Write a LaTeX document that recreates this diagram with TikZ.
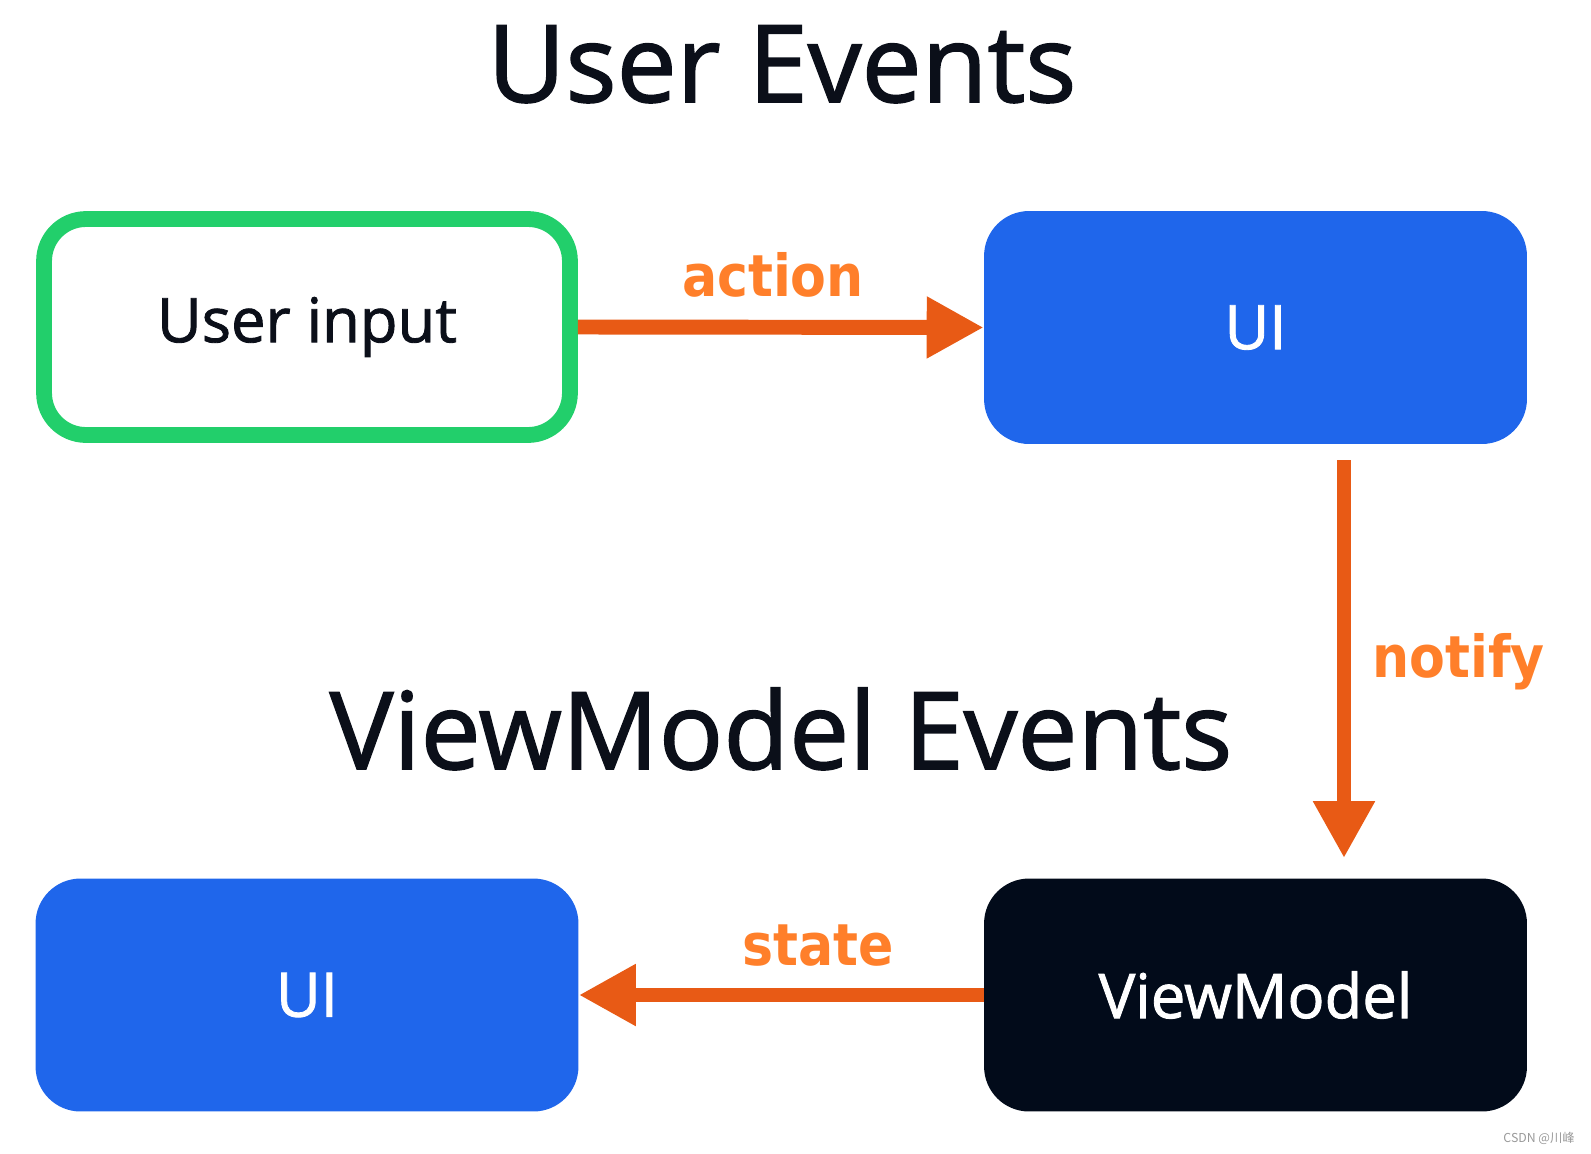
\documentclass[tikz,border=0pt]{standalone}
\usepackage{fontspec}
\setmainfont{Open Sans}[FakeBold=1.4]
\newfontfamily\lblfont{DejaVu Sans Condensed Bold}
\newfontfamily\cjk{Noto Sans CJK SC}
\usetikzlibrary{arrows.meta}

\definecolor{evgreen}{HTML}{22CF6B}
\definecolor{evblue}{HTML}{1F66EB}
\definecolor{evdark}{HTML}{020B1A}
\definecolor{evarrow}{HTML}{E85A15}
\definecolor{evlabel}{HTML}{FF7F2A}
\definecolor{evtext}{HTML}{0B0F19}

\tikzset{
  box/.style={rounded corners=0.9cm, minimum width=10.86cm, minimum height=4.66cm,
    font=\fontsize{35}{35}\selectfont, inner sep=0pt},
  inputbox/.style={box, draw=evgreen, line width=9pt, fill=white, rounded corners=0.84cm,
    minimum width=10.52cm, minimum height=4.32cm, text=evtext},
  uibox/.style={box, fill=evblue, text=white},
  vmbox/.style={box, fill=evdark, text=white},
  flow/.style={evarrow, line width=8.5pt, -{Triangle[length=1.14cm,width=1.16cm]}},
  flowlabel/.style={text=evlabel, font=\lblfont\fontsize{33}{33}\selectfont, inner sep=0pt},
  title/.style={text=evtext, font=\fontsize{61}{61}\selectfont, inner sep=0pt, anchor=base},
}

\begin{document}
\begin{tikzpicture}[x=0.02cm, y=-0.02cm]
    \useasboundingbox (0,0) rectangle (1591,1153);

    % headings
    \node[title] (userev) at (782,102) {User Events};
    \node[title] (vmev) at (781,769) {ViewModel Events};

    % boxes
    \node[inputbox] (input) at (307,327) {User input};
    \node[uibox] (ui1) at (1255.5,327.5) {UI};
    \node[uibox] (ui2) at (307,995) {UI};
    \node[vmbox] (vm) at (1255.5,995) {ViewModel};

    % arrows
    \draw[flow] (input.east) -- (ui1.west);
    \draw[flow, shorten <=0.32cm, shorten >=0.4cm] ([xshift=1.77cm]ui1.south) -- ([xshift=1.77cm]vm.north);
    \draw[flow] (vm.west) -- (ui2.east);

    \node[flowlabel, anchor=base] (action) at (773,296) {action};
    \node[flowlabel, anchor=base west] (notify) at (1372,677) {notify};
    \node[flowlabel, anchor=base] (state) at (818,965) {state};

    \node[text=gray!80, font=\cjk\fontsize{7}{7}\selectfont, anchor=base east, inner sep=0pt] (mark) at (1575,1142) {CSDN @川峰};
\end{tikzpicture}
\end{document}
